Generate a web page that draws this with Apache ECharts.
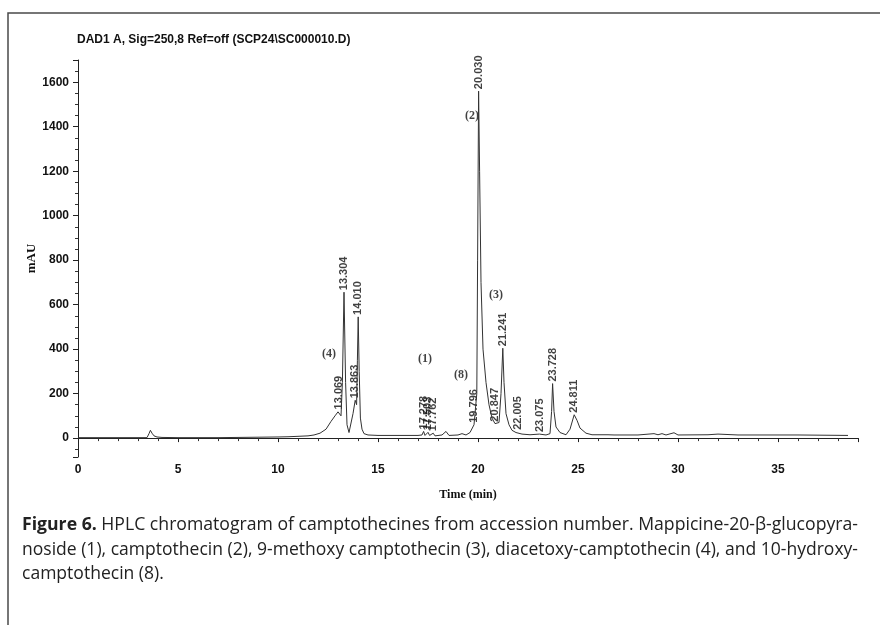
<!DOCTYPE html>
<html>
<head>
<meta charset="utf-8">
<script src="https://cdn.jsdelivr.net/npm/echarts@6/dist/echarts.min.js"></script>
<style>
  html, body { margin: 0; padding: 0; background: #fff; }
  #chart { width: 880px; height: 625px; }
</style>
</head>
<body>
<div id="chart"></div>
<script>
// chromatogram trace: retention time (min) and signal (mAU)
const time = [0, 1, 2, 3, 3.45, 3.55, 3.62, 3.7, 3.8, 3.95, 4.2, 5, 6, 7, 8, 9, 10, 10.5, 11, 11.5,
  11.8, 12.1, 12.4, 12.65, 12.85, 13.0, 13.07, 13.15, 13.22, 13.3, 13.38, 13.45, 13.55, 13.65, 13.75, 13.86,
  13.93, 13.97, 14.01, 14.06, 14.12, 14.2, 14.3, 14.5, 15, 16, 17, 17.2, 17.28, 17.35, 17.5, 17.58, 17.76,
  17.85, 18.2, 18.4, 18.55, 19.0, 19.2, 19.4, 19.6, 19.8, 19.88, 19.94, 19.98, 20.03, 20.08, 20.15, 20.25,
  20.4, 20.55, 20.7, 20.85, 20.95, 21.05, 21.15, 21.24, 21.3, 21.4, 21.55, 21.7, 21.9, 22.0, 22.2, 22.6,
  23.07, 23.4, 23.6, 23.68, 23.73, 23.8, 23.9, 24.1, 24.4, 24.6, 24.81, 24.95, 25.1, 25.4, 25.7, 26.5,
  26.6, 26.8, 28.0, 28.8, 29.0, 29.2, 29.4, 29.8, 30.0, 31.5, 32.0, 33.0, 36, 38.5];
const mAU = [2, 2, 2, 2, 2, 20, 35, 22, 10, 5, 3, 2, 2, 2, 3, 4, 5, 6, 8, 10,
  14, 22, 40, 75, 100, 118, 120, 100, 250, 656, 250, 60, 25, 30, 110, 170,
  150, 350, 545, 300, 90, 40, 20, 14, 12, 12, 12, 14, 30, 12, 26, 12, 22,
  10, 14, 30, 12, 14, 20, 14, 25, 60, 55, 200, 800, 1560, 1200, 700, 400,
  250, 150, 90, 65, 60, 70, 200, 404, 250, 110, 60, 35, 25, 28, 18, 15,
  18, 14, 20, 120, 245, 120, 50, 25, 15, 40, 105, 80, 45, 22, 15, 15,
  20, 14, 14, 20, 15, 20, 14, 24, 14, 15, 18, 14, 14, 12];

// integrated peaks: retention time labels and apex heights
const peakTimes = ['13.069', '13.304', '13.863', '14.010', '17.278', '17.503', '17.762', '19.796',
  '20.030', '20.847', '21.241', '22.005', '23.075', '23.728', '24.811'];
const peakHeights = [120, 656, 170, 545, 30, 26, 22, 60, 1560, 65, 404, 28, 18, 245, 105];

// compound numbers written next to the peaks
const compoundLabels = ['(4)', '(1)', '(8)', '(2)', '(3)'];
const compoundTimes = [12.55, 17.35, 19.15, 19.7, 20.9];
const compoundHeights = [378, 355, 283, 1447, 643];

const captionLines = [
  ['Figure 6.', ' HPLC chromatogram of camptothecines from accession number. Mappicine-20-\u03b2-glucopyra-'],
  ['', 'noside (1), camptothecin (2), 9-methoxy camptothecin (3), diacetoxy-camptothecin (4), and 10-hydroxy-'],
  ['', 'camptothecin (8).']
];

const capFont = '"Open Sans", sans-serif';
const capSize = 18;
const ctx = document.createElement('canvas').getContext('2d');
function measure(bold, txt) {
  ctx.font = (bold ? 'bold ' : '') + capSize + 'px ' + capFont;
  return ctx.measureText(txt).width;
}
const capWidth = 836;
const capScales = captionLines.map(l => capWidth / (measure(true, l[0]) + measure(false, l[1])));
capScales[2] = capScales[1];

const graphics = [{
  type: 'rect',
  shape: { x: 8, y: 13, width: 1000, height: 1000 },
  style: { fill: 'none', stroke: '#4a4a4a', lineWidth: 1.5 },
  silent: true
}];
captionLines.forEach((l, i) => {
  graphics.push({
    type: 'text',
    x: 22,
    y: 525 + i * 24.5,
    scaleX: capScales[i],
    silent: true,
    style: {
      text: (l[0] ? '{b|' + l[0] + '}' : '') + l[1],
      fontFamily: capFont,
      fontSize: capSize,
      fill: '#222',
      verticalAlign: 'middle',
      rich: {
        b: { fontFamily: capFont, fontSize: capSize, fontWeight: 'bold', fill: '#222' }
      }
    }
  });
});

const chart = echarts.init(document.getElementById('chart'));
chart.setOption({
  animation: false,
  backgroundColor: '#fff',
  title: {
    text: 'DAD1 A, Sig=250,8 Ref=off (SCP24\\SC000010.D)',
    left: 77,
    top: 34,
    padding: 0,
    textStyle: { fontFamily: 'Liberation Sans', fontSize: 12, fontWeight: 'bold', color: '#111' }
  },
  grid: { left: 78, right: 22, top: 60, bottom: 168, containLabel: false },
  xAxis: {
    type: 'value',
    min: 0,
    max: 39,
    interval: 5,
    name: 'Time (min)',
    nameLocation: 'middle',
    nameGap: 32,
    nameMoveOverlap: false,
    nameTextStyle: { fontFamily: 'Liberation Serif', fontWeight: 'bold', fontSize: 12, color: '#111' },
    axisLine: { lineStyle: { color: '#222', width: 1 } },
    axisTick: { length: 4, lineStyle: { color: '#222' } },
    minorTick: { show: true, splitNumber: 5, length: 3, lineStyle: { color: '#333' } },
    splitLine: { show: false },
    axisLabel: {
      showMaxLabel: false, margin: 7,
      fontFamily: 'Liberation Sans', fontWeight: 'bold', fontSize: 12, color: '#111'
    }
  },
  yAxis: {
    type: 'value',
    min: -85,
    max: 1700,
    splitNumber: 9,
    name: 'mAU',
    nameLocation: 'middle',
    nameGap: 40,
    nameMoveOverlap: false,
    nameTextStyle: { fontFamily: 'Liberation Serif', fontWeight: 'bold', fontSize: 13, color: '#111' },
    axisLine: { show: true, lineStyle: { color: '#222', width: 1 } },
    axisTick: { show: true, length: 5, lineStyle: { color: '#222' } },
    minorTick: { show: true, splitNumber: 4, length: 3, lineStyle: { color: '#333' } },
    splitLine: { show: false },
    axisLabel: {
      showMinLabel: false, showMaxLabel: false, margin: 9,
      formatter: v => String(v),
      fontFamily: 'Liberation Sans', fontWeight: 'bold', fontSize: 12, color: '#111'
    }
  },
  series: [
    {
      type: 'line',
      data: time.map((t, i) => [t, mAU[i]]),
      showSymbol: false,
      silent: true,
      lineStyle: { color: '#333', width: 1 }
    },
    {
      type: 'scatter',
      data: peakTimes.map((t, i) => [parseFloat(t), peakHeights[i]]),
      symbolSize: 0,
      silent: true,
      label: {
        show: true,
        position: 'top',
        distance: 2,
        rotate: 90,
        align: 'left',
        verticalAlign: 'middle',
        formatter: p => peakTimes[p.dataIndex],
        fontFamily: 'Liberation Sans',
        fontWeight: 'bold',
        fontSize: 11,
        color: '#111'
      }
    },
    {
      type: 'scatter',
      data: compoundTimes.map((t, i) => [t, compoundHeights[i]]),
      symbolSize: 0,
      silent: true,
      label: {
        show: true,
        position: 'inside',
        formatter: p => compoundLabels[p.dataIndex],
        fontFamily: 'Liberation Serif',
        fontWeight: 'bold',
        fontSize: 12,
        color: '#111'
      }
    }
  ],
  graphic: graphics
});
</script>
</body>
</html>
